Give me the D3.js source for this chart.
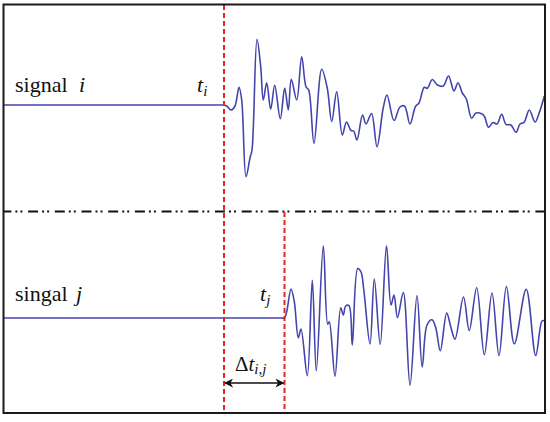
<!DOCTYPE html>
<html>
<head>
<meta charset="utf-8">
<script src="https://cdn.jsdelivr.net/npm/d3@7"></script>
<style>
  body { margin: 0; background: #fff; }
  text { font-family: "Liberation Serif", "DejaVu Serif", serif; fill: #111; }
</style>
</head>
<body>
<div id="chart-area"></div>
<script>
// signal i : time (samples) / amplitude
var sigITime = [0, 50, 100, 150, 200, 210, 216, 219.3, 222.7, 227, 231, 235, 237.7, 242, 246, 248, 253,
    256.7, 259.3, 262.7, 266.7,
    270.7, 276.3, 280.7, 284.3, 287.3, 292.7, 297.7, 302, 304.7, 310, 317.7, 323.3, 327.7, 332.7,
    338.3, 342.5, 347, 349.7, 353, 358.5, 362, 367.5, 373, 379.3, 383, 390, 396, 400.5, 406, 411.5,
    415, 420.3, 423.3, 428.3, 433.5, 439.3, 444.5, 450, 454, 458.3, 462.3, 467.7, 472, 478, 480.5,
    484.5, 489, 493, 497.7, 502, 507, 512, 516, 520, 525.3, 531, 535.5, 540.3];
var sigIAmp = [0, 0, 0, 0, 0, 0, 0, 0, -1, -5, -1, 17.7, 5, -71.7, -53, -45, 65.7,
    38.3, 5, 22.3, -4.3,
    19.7, -13.7, 17, -5, 25.7, 5, 48.3, 18.3, 15, -38.3, 35.7, 16.7, -16.7, 13.3,
    -30, -17, -25.5, -26, -35, -10, -19, -8.5, -41.7, -2.5, 10, -15.5, -2, -1, -19, -1.5,
    2, 17.7, 16.7, 25.5, 20, 19, 29, 14, 22.3, 12, 6, -13.3, -8, -9, -11.5,
    -22.3, -17.5, -19, -9.3, -19.3, -20, -27.3, -19, -17.5, -5, -17, -7, 9];

// signal j
var sigJTime = [0, 50, 100, 150, 200, 250, 270, 277, 280.3, 282.7, 287, 290.3, 294.3, 297, 303.3,
    308.3, 312.3, 319.3, 323.7, 325.3,
    331, 336.7, 339.3, 341.7, 345, 348.3, 353.7, 357, 359.7, 366, 370.3, 376.2, 382.5, 387, 390,
    393.5, 399.3, 406, 413, 418.2, 423, 428, 431.7, 436.3, 442.7, 447, 451, 459.5, 465.2, 472.7,
    480.3, 488, 495, 502.4, 510.3, 522.2, 531.7, 538, 540.3];
var sigJAmp = [0, 0, 0, 0, 0, 0, 0, 0, 0, 6.3, 29, 16.3, -19.7, -11, -57.7,
    37.7, -53, 72.3, -6.3, -3.7,
    -58.3, 10.3, 3, 12, 12.3, -27, 49.5, 46, 29, -26, 39, -26.5, 72.3, 13, 23,
    0.5, 25.5, -67.3, 22.5, -49, -7, -1.7, -9.5, -32.7, 5, -9.7, -21.2, 21, -12.5, 30.3,
    -36.7, 25, -37.5, 31.5, -25.8, 28.8, -37.5, -3, -2.5];

// arrival times (t_i, t_j)
var onsetTimes = [220, 280.5];

var width = 550;
var height = 422;

var svg = d3.select('#chart-area')
    .append("svg")
    .attr("width", width)
    .attr("height", height);

var x = d3.scaleLinear().domain([0, 541]).range([4, 545]);
var yI = d3.scaleLinear().domain([-100, 100]).range([205, 5]);
var yJ = d3.scaleLinear().domain([-100, 100]).range([418, 218]);

var blue = "#4444ad";

// signals
function drawSignal(times, amps, y) {
    var pts = times.map((t, k) => [t, amps[k]]);
    var line = d3.line()
        .x(d => x(d[0]))
        .y(d => y(d[1]))
        .curve(d3.curveCatmullRom.alpha(0.5));
    svg.append("path")
        .datum(pts)
        .attr("d", line)
        .attr("fill", "none")
        .attr("stroke", blue)
        .attr("stroke-width", 1.6)
        .attr("stroke-linejoin", "round");
}
drawSignal(sigITime, sigIAmp, yI);
drawSignal(sigJTime, sigJAmp, yJ);

// separator dash-dot-dot line
svg.append("line")
    .attr("x1", 4).attr("x2", 545)
    .attr("y1", 211.5).attr("y2", 211.5)
    .attr("stroke", "#111")
    .attr("stroke-width", 2)
    .attr("stroke-dasharray", "10,4,2,3,2,5.7")
    .attr("stroke-dashoffset", 2.6);

// red onset lines
svg.append("line")
    .attr("x1", x(onsetTimes[0])).attr("x2", x(onsetTimes[0]))
    .attr("y1", 5).attr("y2", 413)
    .attr("stroke", "#e8231e")
    .attr("stroke-width", 2)
    .attr("stroke-dasharray", "5,3");
svg.append("line")
    .attr("x1", x(onsetTimes[1])).attr("x2", x(onsetTimes[1]))
    .attr("y1", 212).attr("y2", 413)
    .attr("stroke", "#e8231e")
    .attr("stroke-width", 2)
    .attr("stroke-dasharray", "5,3");

// double arrow for delta t
var defs = svg.append("defs");
defs.append("marker")
    .attr("id", "head")
    .attr("viewBox", "0 0 10 10")
    .attr("refX", 9).attr("refY", 5)
    .attr("markerWidth", 9).attr("markerHeight", 9)
    .attr("markerUnits", "userSpaceOnUse")
    .attr("orient", "auto-start-reverse")
    .append("path")
    .attr("d", "M0,0 L10,5 L0,10 L3,5 Z")
    .attr("fill", "#111");

svg.append("line")
    .attr("x1", x(onsetTimes[0]) + 1).attr("x2", x(onsetTimes[1]) - 1)
    .attr("y1", 383).attr("y2", 383)
    .attr("stroke", "#111")
    .attr("stroke-width", 1.3)
    .attr("marker-start", "url(#head)")
    .attr("marker-end", "url(#head)");

// frame
svg.append("rect")
    .attr("x", 3.5).attr("y", 4.5)
    .attr("width", 541.5).attr("height", 408.5)
    .attr("fill", "none")
    .attr("stroke", "#1a1a1a")
    .attr("stroke-width", 2);

// labels
var lab1 = svg.append("text").attr("x", 15).attr("y", 92).attr("font-size", 22);
lab1.append("tspan").text("signal");
lab1.append("tspan").attr("x", 79).attr("font-style", "italic").text("i");

var lab2 = svg.append("text").attr("x", 15).attr("y", 301).attr("font-size", 22);
lab2.append("tspan").text("singal");
lab2.append("tspan").attr("x", 76).attr("font-style", "italic").text("j");

var ti = svg.append("text").attr("x", 197).attr("y", 92).attr("font-size", 22).attr("font-style", "italic");
ti.append("tspan").text("t");
ti.append("tspan").attr("font-size", 15).attr("dy", 4).text("i");

var tj = svg.append("text").attr("x", 260).attr("y", 301).attr("font-size", 22).attr("font-style", "italic");
tj.append("tspan").text("t");
tj.append("tspan").attr("font-size", 15).attr("dy", 4).text("j");

var dt = svg.append("text").attr("x", 235).attr("y", 371).attr("font-size", 21);
dt.append("tspan").text("Δ");
dt.append("tspan").attr("font-style", "italic").text("t");
dt.append("tspan").attr("font-style", "italic").attr("font-size", 15).attr("dy", 3).text("i,j");
</script>
</body>
</html>
